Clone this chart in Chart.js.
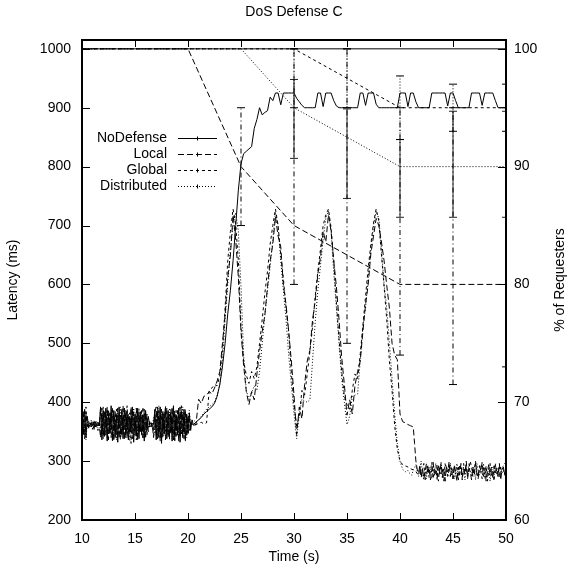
<!DOCTYPE html>
<html>
<head>
<meta charset="utf-8">
<script src="https://cdn.jsdelivr.net/npm/chart.js@4"></script>
<style>html,body{margin:0;padding:0;background:#fff;}canvas{display:block;}</style>
</head>
<body>
<canvas id="c" width="568" height="566"></canvas>
<script>
// ---- axis ticks ----
const xTicks = [10,15,20,25,30,35,40,45,50];
const yTicks = [200,300,400,500,600,700,800,900,1000];
const y2Ticks = [60,70,80,90,100];

// ---- sample times ----
const seg = (start, step, n) => Array.from({length:n},(_,i)=>start+i*step);
const preTimes = seg(10, 0.125, 85);      // 10 .. 20.5
const attackTimes = seg(20.75, 0.25, 80); // 20.75 .. 40.5
const postTimes = seg(40.75, 0.125, 75);  // 40.75 .. 50
const ndMainTimes = seg(20.75, 0.25, 118);// 20.75 .. 50

// ---- latency (ms) ----
const noDefensePre = [
370,345,388,340,376,358,362,366, 360,364,358,362,366,360,392,336,
384,342,390,334,380,348,394,338, 386,340,378,332,392,346,382,338,
390,344,384,336,376,350,392,332, 380,342,388,338,384,346,378,334,
386,352,376,362,364,360,362,388, 336,384,340,392,330,380,346,390,
338,386,342,382,334,394,340,378, 344,390,332,384,340,388,336,380,
348,382,352,370,362];
const noDefenseMain = [366,
370,374,380,384, 388,392,398,410, 430,460,500,550, 590,640,700,760,
805,822,826,830, 834,865,880,900, 888,892,895,918, 912,925,925,905,
925,925,925,925, 925,916,910,904, 900,900,900,900, 900,925,925,902,
925,925,925,912, 903,900,900,900, 900,900,900,900, 900,925,925,904,
925,925,925,906, 900,900,900,900, 900,900,900,900, 925,925,925,902,
925,925,910,900, 900,900,900,900, 925,925,925,925, 925,925,903,925,
925,912,900,900, 900,900,900,925, 925,925,925,904, 925,925,925,925,
912,900,900,900, 900];

const localPre = [
352,384,338,380,362,356,364,358, 366,352,368,356,362,364,340,390,
338,386,344,392,336,382,340,388, 334,384,346,390,338,378,344,394,
336,386,340,380,346,392,338,384, 344,390,336,382,348,386,340,388,
338,380,350,366,358,364,340,384, 392,338,386,334,388,342,384,336,
390,340,380,346,392,336,384,342, 386,334,392,346,380,338,388,344,
378,352,366,360,361];
const localAttack = [
362,405,398,410, 412,418,414,424, 436,452,500,548, 612,650,718,676,
612,520,462,418, 396,418,404,448, 486,520,548,596, 640,668,715,682,
664,598,566,520, 470,412,345,392, 372,430,470,488, 540,572,618,646,
690,672,718,690, 640,596,540,476, 430,378,404,380, 428,452,470,520,
566,600,652,682, 712,700,672,640, 598,560,500,480, 472,380,367,365];
const localPost = [
362,361,360,359,358,330,300,286, 280,292,274,288,270,284,296,278,
290,268,286,298,276,284,270,292, 278,296,272,286,266,290,282,298,
274,288,270,294,280,266,290,276, 296,272,286,278,300,270,288,282,
268,290,276,296,280,272,292,284, 298,274,288,266,284,294,276,290,
270,292,280,288,274,296,268,286, 290,278,296];

const globalPre = [
344,378,350,392,356,368,360,364, 354,370,358,366,352,362,386,344,
392,350,378,340,388,346,384,332, 380,350,388,342,374,336,390,346,
378,340,394,348,382,330,386,352, 374,336,390,350,376,344,392,340,
378,344,362,358,366,362,350,378, 344,392,350,376,338,386,348,394,
346,378,336,388,350,382,332,386, 350,376,340,394,346,382,334,378,
344,374,356,364,360];
const globalAttack = [
362,364,366,363, 365,420,424,430, 428,446,488,560, 640,690,728,702,
640,528,470,446, 432,452,440,460, 500,540,585,622, 668,700,728,700,
650,610,560,520, 450,395,360,378, 420,412,448,486, 528,580,622,660,
700,718,728,696, 640,570,508,452, 410,396,388,420, 448,440,482,530,
580,628,668,704, 728,708,650,596, 540,470,420,360, 320,300,294,292];
const globalPost = [
290,288,287,286,285,284,282,279, 276,290,272,286,296,268,284,292,
272,284,298,270,288,276,294,266, 292,278,286,266,296,282,274,290,
296,282,270,290,278,288,268,294, 284,268,296,280,290,274,286,300,
290,274,286,300,278,270,292,282, 270,288,278,292,266,284,296,276,
284,266,294,278,288,272,290,280, 286,276,290];

const distributedPre = [
380,350,372,336,366,362,358,370, 364,356,362,368,356,366,344,380,
346,372,356,386,342,376,352,390, 348,370,336,384,354,392,342,374,
352,382,344,374,334,386,356,390, 348,376,342,390,352,380,338,372,
352,372,358,368,362,356,374,344, 380,352,394,346,376,340,384,350,
372,344,390,354,378,338,386,348, 374,342,384,352,392,346,376,340,
370,386,360,368,370];
const distributedAttack = [
366,370,376,382, 388,392,396,400, 412,430,470,540, 600,660,700,722,
690,596,480,420, 405,416,428,420, 452,500,548,590, 630,676,722,700,
640,590,540,480, 430,380,338,380, 405,402,400,404, 470,536,590,632,
676,712,725,690, 620,560,500,440, 400,362,376,410, 412,414,470,530,
560,612,660,700, 724,712,660,600, 560,500,440,380, 330,300,286,282];
const distributedPost = [
284,280,278,276,286,289,294,282, 274,288,300,278,268,286,270,292,
280,286,270,292,280,296,268,290, 282,298,276,288,266,292,274,286,
294,276,288,270,282,296,272,288, 292,274,284,268,290,278,296,280,
274,290,286,268,296,282,276,292, 280,296,270,288,278,292,266,284,
290,276,296,280,274,290,282,288, 292,296,300];

// ---- % of requesters ----
const pctTimes = [10,15,20,25,30,35,40,45,50];
const noDefensePct   = [100,100,100,100,100,100,100,100,100];
const localPct       = [100,100,100,90,85,82.5,80,80,80];
const globalPct      = [100,100,100,100,100,97.5,95,95,95];
const distributedPct = [100,100,100,100,95,92.5,90,90,90];

// ---- error bars on % of requesters ----
const localErrX  = [25,30,35,40,45,50];
const localErrLo = [85,80,75,74,71.5,73];
const localErrHi = [95,100,100,95,95,95];
const globalErrX  = [30,35,40,45,50];
const globalErrLo = [95,95,92.3,93,93];
const globalErrHi = [100,100,97.7,97,97];
const distErrX  = [30,35,40,45,50];
const distErrLo = [90.7,87.3,85.7,85.7,85.7];
const distErrHi = [97.4,94.9,92.3,94.7,94.7];

const FONT = "'Liberation Sans', Arial, Helvetica, sans-serif";
const dashLocal = [6,3], dashGlobal = [3,3], dashDist = [1,2], dashDot = [5,3,1,3];

const pts = (xs, ys) => ys.map((v,i)=>({x:xs[i], y:v}));
const lineDs = (data, dash, axis) => ({
  data, yAxisID: axis, borderColor:'#000', borderWidth:1, borderDash: dash,
  pointRadius:0, tension:0, fill:false, borderJoinStyle:'round'
});
const errDs = (xs, lo, hi, dash, color) => xs.map((x,i)=>({
  data:[{x, y:lo[i]},{x, y:hi[i]}], yAxisID:'y2', borderColor:color, borderWidth:1,
  borderDash: dash, pointStyle:'line', pointRadius:4, pointBorderWidth:1,
  pointBorderColor:color, pointBackgroundColor:color, tension:0, fill:false
}));

const defTimes = preTimes.concat(attackTimes, postTimes);
const datasets = [
  lineDs(pts(pctTimes, globalPct), dashGlobal, 'y2'),
  lineDs(pts(pctTimes, distributedPct), dashDist, 'y2'),
  lineDs(pts(pctTimes, localPct), dashLocal, 'y2'),
  lineDs(pts(pctTimes, noDefensePct), [], 'y2'),
  ...errDs(localErrX, localErrLo, localErrHi, dashDot, '#000'),
  ...errDs(globalErrX, globalErrLo, globalErrHi, [1,2], '#000'),
  ...errDs(distErrX, distErrLo, distErrHi, [], '#222'),
  lineDs(pts(defTimes, distributedPre.concat(distributedAttack, distributedPost)), dashDist, 'y'),
  lineDs(pts(defTimes, globalPre.concat(globalAttack, globalPost)), dashGlobal, 'y'),
  lineDs(pts(defTimes, localPre.concat(localAttack, localPost)), dashLocal, 'y'),
  lineDs(pts(preTimes.concat(ndMainTimes), noDefensePre.concat(noDefenseMain)), [], 'y'),
];

const legendItems = [
  {label:'NoDefense', dash:[]},
  {label:'Local', dash:dashLocal},
  {label:'Global', dash:dashGlobal},
  {label:'Distributed', dash:dashDist},
];

const deco = {
  id:'deco',
  afterDatasetsDraw(chart){
    const {ctx, chartArea:{left,right,top,bottom}, scales:{x,y,y2}} = chart;
    ctx.save();
    ctx.strokeStyle='#000'; ctx.fillStyle='#000'; ctx.lineWidth=1; ctx.setLineDash([]);
    ctx.beginPath();
    xTicks.forEach(v=>{const p=Math.round(x.getPixelForValue(v))+0.5;
      ctx.moveTo(p,bottom); ctx.lineTo(p,bottom-7); ctx.moveTo(p,top); ctx.lineTo(p,top+7);});
    yTicks.forEach(v=>{const p=Math.round(y.getPixelForValue(v))+0.5;
      ctx.moveTo(left,p); ctx.lineTo(left+8,p);});
    y2Ticks.forEach(v=>{const p=Math.round(y2.getPixelForValue(v))+0.5;
      ctx.moveTo(right,p); ctx.lineTo(right-8,p);});
    ctx.stroke();
    ctx.lineWidth=2;
    ctx.strokeRect(left,top,right-left,bottom-top);
    // legend
    ctx.font = '14px '+FONT; ctx.textAlign='right'; ctx.textBaseline='middle';
    const rows=[138,154,170,186];
    legendItems.forEach((it,i)=>{
      ctx.fillText(it.label,167,rows[i]);
      ctx.lineWidth=1; ctx.setLineDash(it.dash);
      ctx.beginPath(); ctx.moveTo(178,rows[i]+0.5); ctx.lineTo(217,rows[i]+0.5); ctx.stroke();
      ctx.setLineDash([]);
      ctx.beginPath(); ctx.moveTo(197.5,rows[i]-1.5); ctx.lineTo(197.5,rows[i]+2.5); ctx.stroke();
    });
    // titles
    ctx.textAlign='center';
    ctx.fillText('DoS Defense C',(left+right)/2,12);
    ctx.fillText('Time (s)',(left+right)/2,557);
    ctx.save(); ctx.translate(13,(top+bottom)/2); ctx.rotate(-Math.PI/2);
    ctx.fillText('Latency (ms)',0,0); ctx.restore();
    ctx.save(); ctx.translate(560,(top+bottom)/2); ctx.rotate(-Math.PI/2);
    ctx.fillText('% of Requesters',0,0); ctx.restore();
    ctx.restore();
  }
};

Chart.defaults.font.family = FONT;
Chart.defaults.font.size = 14;
Chart.defaults.color = '#000';

new Chart(document.getElementById('c'), {
  type:'line',
  data:{datasets},
  options:{
    responsive:false, animation:false, devicePixelRatio:1, events:[],
    layout:{padding:{top:40,left:0,right:0,bottom:0}},
    plugins:{legend:{display:false}, tooltip:{enabled:false}, title:{display:false}},
    scales:{
      x:{type:'linear', min:10, max:50, grid:{display:false, drawTicks:false}, border:{display:false},
         ticks:{stepSize:5, padding:11, autoSkip:false, maxRotation:0, includeBounds:false,
                callback:v=>String(v)},
         afterFit(s){s.height=46;}},
      y:{type:'linear', position:'left', min:200, max:1015, grid:{display:false, drawTicks:false}, border:{display:false},
         ticks:{stepSize:100, padding:11, includeBounds:false, callback:v=>String(v)},
         afterFit(s){s.width=82;}},
      y2:{type:'linear', position:'right', min:60, max:100.75, grid:{display:false, drawTicks:false}, border:{display:false},
         ticks:{stepSize:10, padding:8, includeBounds:false, callback:v=>String(v)},
         afterFit(s){s.width=62;}}
    }
  },
  plugins:[deco]
});
</script>
</body>
</html>
